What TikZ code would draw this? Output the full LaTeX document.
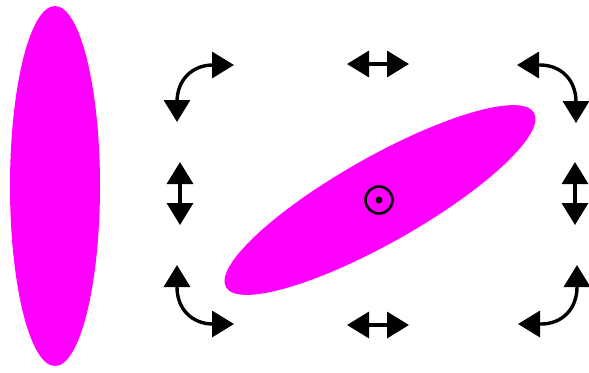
\documentclass[tikz,border=0pt]{standalone}
\usetikzlibrary{arrows.meta}
\definecolor{mag}{RGB}{255,0,255}
\tikzset{
  dbl/.style={line width=1.7pt, {Triangle[length=11pt,width=13pt]}-{Triangle[length=11pt,width=13pt]}},
  blob/.style={fill=mag}
}
\begin{document}
\begin{tikzpicture}[x=0.5pt,y=-0.5pt]
\useasboundingbox (0,0) rectangle (589,372);
% left ellipse
\fill[blob] (55,186) ellipse [x radius=45, y radius=180];
% tilted ellipse
\coordinate (c) at (380,200);
\fill[blob, rotate around={29.5:(c)}] (c) ellipse [x radius=177, y radius=43];
% centre marker
\draw[line width=1.3pt] (379,200) circle [radius=13.5];
\fill (379,200) circle [radius=3.5];
% straight double arrows
\coordinate (tl) at (347,64); \coordinate (tr) at (409,64);
\draw[dbl] (tl) -- (tr);
\coordinate (bl) at (347,325); \coordinate (br) at (409,325);
\draw[dbl] (bl) -- (br);
\coordinate (lt) at (180,162); \coordinate (lb) at (180,225);
\draw[dbl] (lt) -- (lb);
\coordinate (rt) at (575,162); \coordinate (rb) at (575,225);
\draw[dbl] (rt) -- (rb);
% curved double arrows
\draw[dbl] (177,122) -- (177,102) .. controls (177,80) and (192,65) .. (213,65) -- (234,65);
\draw[dbl] (517,65) -- (540,65) .. controls (561,65) and (576,80) .. (576,102) -- (576,123);
\draw[dbl] (177,265) -- (177,287) .. controls (177,309) and (192,324) .. (213,324) -- (234,324);
\draw[dbl] (577,265) -- (577,287) .. controls (577,309) and (562,324) .. (541,324) -- (518,324);
\end{tikzpicture}
\end{document}
